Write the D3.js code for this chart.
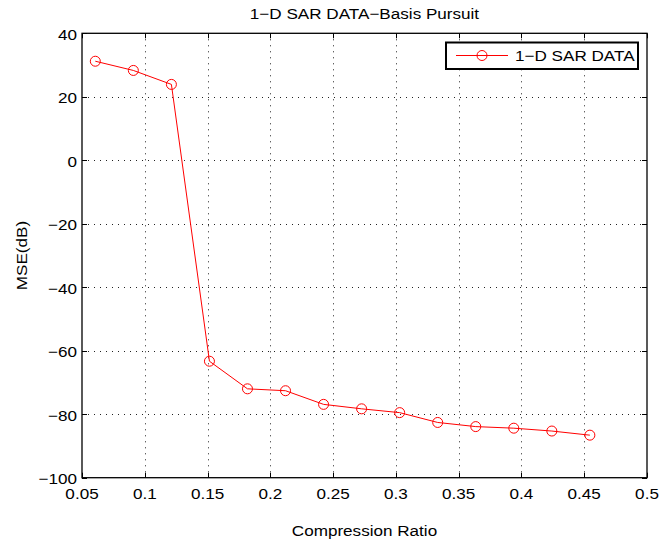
<!DOCTYPE html>
<html>
<head>
<meta charset="utf-8">
<script src="https://cdn.jsdelivr.net/npm/d3@7"></script>
<style>
html,body{margin:0;padding:0;background:#fff;}
svg{display:block;}
text{font-family:"Liberation Sans",Arial,Helvetica,sans-serif;fill:#000;}
</style>
</head>
<body>
<script>
// ---- data ----
const compressionRatio = [0.0606, 0.0909, 0.1212, 0.1515, 0.1818, 0.2121, 0.2424, 0.2727, 0.3030, 0.3333, 0.3636, 0.3939, 0.4242, 0.4545];
const mseDb = [31.2, 28.3, 23.9, -63.3, -72.0, -72.6, -76.9, -78.3, -79.5, -82.6, -83.9, -84.4, -85.3, -86.6];
const xTicks = [0.05, 0.1, 0.15, 0.2, 0.25, 0.3, 0.35, 0.4, 0.45, 0.5];
const yTicks = [-100, -80, -60, -40, -20, 0, 20, 40];
const xTickLabels = ["0.05","0.1","0.15","0.2","0.25","0.3","0.35","0.4","0.45","0.5"];
const yTickLabels = ["\u2212100","\u221280","\u221260","\u221240","\u221220","0","20","40"];
const titleText = "1\u2212D SAR DATA\u2212Basis Pursuit";
const xLabel = "Compression Ratio";
const yLabel = "MSE(dB)";
const seriesName = "1\u2212D SAR DATA";

// ---- layout ----
const W = 662, H = 546;
const L = 82, R = 647, T = 33.3, B = 477.7;
const FS = 15, SX = 1.14;

const svg = d3.select("body").append("svg").attr("width", W).attr("height", H);
const x = d3.scaleLinear().domain([0.05, 0.5]).range([L, R]);
const y = d3.scaleLinear().domain([-100, 40]).range([B, T]);

function txt(px, py, str, anchor, rot) {
  return svg.append("text")
    .attr("transform", `translate(${px},${py}) rotate(${rot||0}) scale(${SX},1)`)
    .attr("text-anchor", anchor || "start")
    .attr("font-size", FS)
    .text(str);
}

// grid
const grid = svg.append("g").attr("stroke", "#222").attr("stroke-width", 1)
  .attr("stroke-dasharray", "1,5").attr("fill", "none");
xTicks.slice(1, -1).forEach(v => {
  grid.append("line").attr("x1", Math.round(x(v)) + 0.5).attr("x2", Math.round(x(v)) + 0.5)
    .attr("y1", T).attr("y2", B);
});
yTicks.slice(1, -1).forEach(v => {
  grid.append("line").attr("y1", Math.round(y(v)) + 0.5).attr("y2", Math.round(y(v)) + 0.5)
    .attr("x1", L).attr("x2", R);
});

// axes (ticks inward on all sides)
const tl = 5;
const ax = svg.append("g").attr("stroke", "#000").attr("stroke-width", 1);
xTicks.forEach(v => {
  const px = Math.round(x(v)) + 0.5;
  ax.append("line").attr("x1", px).attr("x2", px).attr("y1", B).attr("y2", B - tl);
  ax.append("line").attr("x1", px).attr("x2", px).attr("y1", T).attr("y2", T + tl);
});
yTicks.forEach(v => {
  const py = Math.round(y(v)) + 0.5;
  ax.append("line").attr("x1", L).attr("x2", L + tl).attr("y1", py).attr("y2", py);
  ax.append("line").attr("x1", R).attr("x2", R - tl).attr("y1", py).attr("y2", py);
});
svg.append("rect").attr("x", L).attr("y", T).attr("width", R - L).attr("height", B - T)
  .attr("fill", "none").attr("stroke", "#000").attr("stroke-width", 1.3);

// tick labels
xTicks.forEach((v, i) => txt(x(v), B + 21.5, xTickLabels[i], "middle"));
yTicks.forEach((v, i) => txt(L - 5, y(v) + 6.5, yTickLabels[i], "end"));

// titles
txt((L + R) / 2, 18.5, titleText, "middle");
txt((L + R) / 2, 536, xLabel, "middle");
txt(27, (T + B) / 2, yLabel, "middle", -90);

// series
const pts = compressionRatio.map((c, i) => [c, mseDb[i]]);
svg.append("path").datum(pts)
  .attr("d", d3.line().x(d => x(d[0])).y(d => y(d[1])))
  .attr("fill", "none").attr("stroke", "#ff0000").attr("stroke-width", 1);
svg.append("g").selectAll("circle").data(pts).join("circle")
  .attr("cx", d => x(d[0])).attr("cy", d => y(d[1])).attr("r", 5)
  .attr("fill", "none").attr("stroke", "#ff0000").attr("stroke-width", 1);

// legend
const lg = svg.append("g");
lg.append("rect").attr("x", 446).attr("y", 42.5).attr("width", 192).attr("height", 26.5)
  .attr("fill", "#fff").attr("stroke", "#000").attr("stroke-width", 2);
lg.append("line").attr("x1", 456).attr("x2", 508).attr("y1", 55.5).attr("y2", 55.5)
  .attr("stroke", "#ff0000").attr("stroke-width", 1);
lg.append("circle").attr("cx", 482).attr("cy", 55.5).attr("r", 5)
  .attr("fill", "none").attr("stroke", "#ff0000").attr("stroke-width", 1);
txt(515, 61, seriesName, "start");
</script>
</body>
</html>
